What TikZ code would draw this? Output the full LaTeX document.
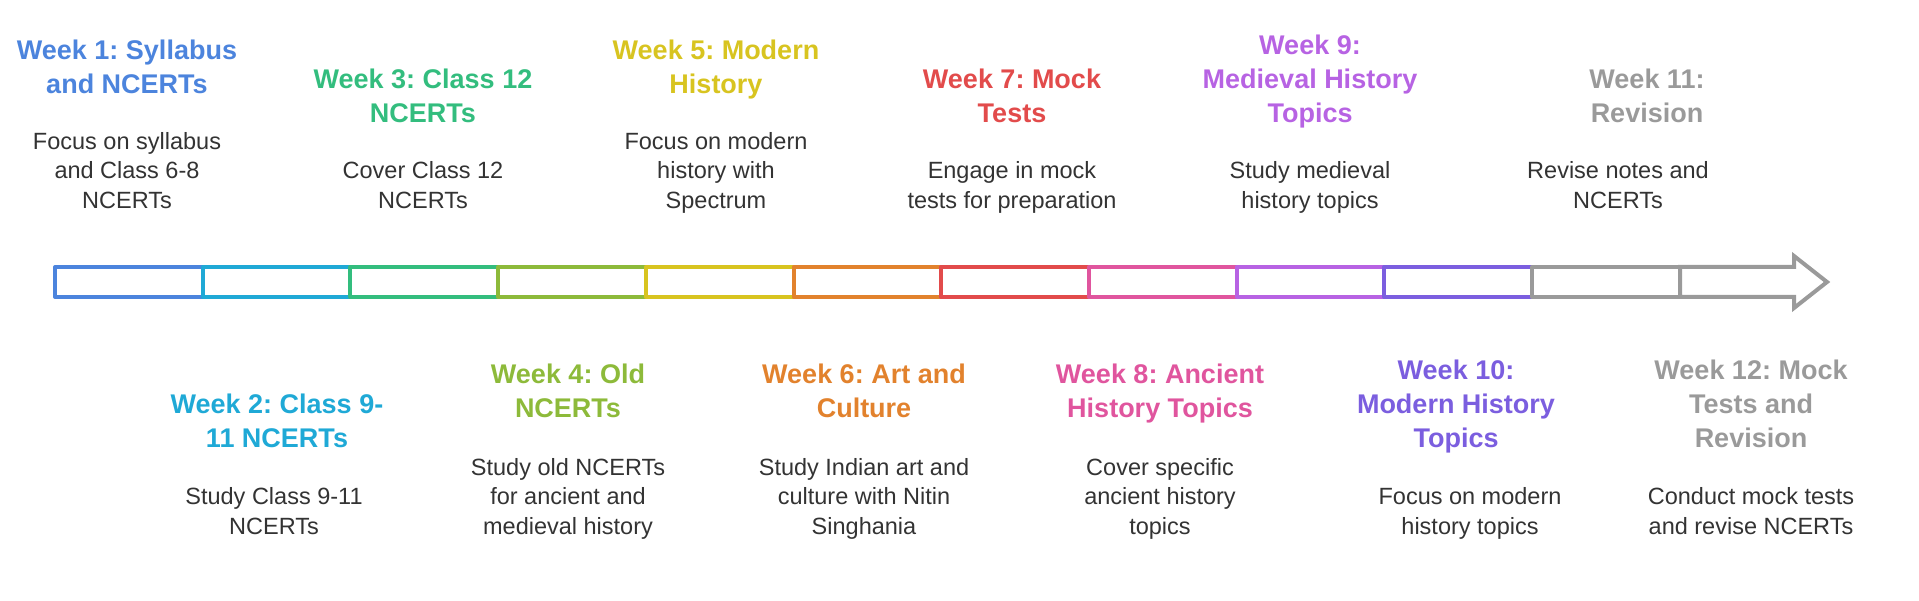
\documentclass[tikz,border=0pt]{standalone}
\usepackage{fontspec}
\setmainfont{Liberation Sans}
\frenchspacing
\usetikzlibrary{positioning}
\definecolor{c1}{HTML}{4C84DD}
\definecolor{c2}{HTML}{1FA9D6}
\definecolor{c3}{HTML}{33BD7E}
\definecolor{c4}{HTML}{8DBA3A}
\definecolor{c5}{HTML}{D8C420}
\definecolor{c6}{HTML}{E2822D}
\definecolor{c7}{HTML}{E24B4B}
\definecolor{c8}{HTML}{E0559E}
\definecolor{c9}{HTML}{B763E3}
\definecolor{c10}{HTML}{7B5EDF}
\definecolor{c11}{HTML}{9A9A9A}
\definecolor{bodytext}{HTML}{333333}
\tikzset{
  seg/.style={draw=#1, line width=4pt, line join=round, rectangle, inner sep=0pt, outer sep=0pt,
    minimum width=147.7pt, minimum height=30pt},
  bodytxt/.style={align=center, inner sep=0pt, text=bodytext, anchor=south,
    font=\fontsize{23.5pt}{29.5pt}\selectfont\frenchspacing},
  ttl/.style={align=center, inner sep=0pt, text=#1, anchor=south,
    font=\fontsize{27pt}{34pt}\selectfont\bfseries\frenchspacing},
}
\begin{document}
\begin{tikzpicture}[x=1pt,y=-1pt]
\useasboundingbox (0,0) rectangle (1919,601);
% timeline segments
\node[seg=c1]  (s1)  at (128.85,282) {};
\node[seg=c2]  (s2)  at (276.55,282) {};
\node[seg=c3]  (s3)  at (424.25,282) {};
\node[seg=c4]  (s4)  at (571.95,282) {};
\node[seg=c5]  (s5)  at (719.65,282) {};
\node[seg=c6]  (s6)  at (867.35,282) {};
\node[seg=c7]  (s7)  at (1015.05,282) {};
\node[seg=c8]  (s8)  at (1162.75,282) {};
\node[seg=c9]  (s9)  at (1310.45,282) {};
\node[seg=c10] (s10) at (1458.15,282) {};
\node[seg=c11] (s11) at (1605.85,282) {};
\draw[c11, line width=4pt, line join=miter]
  (1680,267) -- (1794,267) -- (1794,256) -- (1827,282) -- (1794,308) -- (1794,297) -- (1680,297) -- cycle;
\coordinate (s12) at (1751,282);

% top (odd weeks)
\node[bodytxt] (b1) at (127,217.3) {\strut Focus on syllabus\\and Class 6-8\\NCERTs\strut};
\node[ttl=c1] (t1) at ([yshift=24.85pt]b1.north) {\strut Week 1: Syllabus\\and NCERTs\strut};

\node[bodytxt] (b3) at (423,217.3) {\strut Cover Class 12\\NCERTs\strut};
\node[ttl=c3] (t3) at ([yshift=24.85pt]b3.north) {\strut Week 3: Class 12\\NCERTs\strut};

\node[bodytxt] (b5) at (716,217.3) {\strut Focus on modern\\history with\\Spectrum\strut};
\node[ttl=c5] (t5) at ([yshift=24.85pt]b5.north) {\strut Week 5: Modern\\History\strut};

\node[bodytxt] (b7) at (1012,217.3) {\strut Engage in mock\\tests for preparation\strut};
\node[ttl=c7] (t7) at ([yshift=24.85pt]b7.north) {\strut Week 7: Mock\\Tests\strut};

\node[bodytxt] (b9) at (1310,217.3) {\strut Study medieval\\history topics\strut};
\node[ttl=c9] (t9) at ([yshift=24.85pt]b9.north) {\strut Week 9:\\Medieval History\\Topics\strut};

\node[bodytxt] (b11) at (1618,217.3) {\strut Revise notes and\\NCERTs\strut};
\node[ttl=c11] (t11) at ([xshift=29pt,yshift=24.85pt]b11.north) {\strut Week 11:\\Revision\strut};

% bottom (even weeks)
\node[bodytxt] (b2) at (274,543.3) {\strut Study Class 9-11\\NCERTs\strut};
\node[ttl=c2] (t2) at ([xshift=3pt,yshift=26.35pt]b2.north) {\strut Week 2: Class 9-\\11 NCERTs\strut};

\node[bodytxt] (b4) at (568,543.3) {\strut Study old NCERTs\\for ancient and\\medieval history\strut};
\node[ttl=c4] (t4) at ([yshift=26.35pt]b4.north) {\strut Week 4: Old\\NCERTs\strut};

\node[bodytxt] (b6) at (864,543.3) {\strut Study Indian art and\\culture with Nitin\\Singhania\strut};
\node[ttl=c6] (t6) at ([yshift=26.35pt]b6.north) {\strut Week 6: Art and\\Culture\strut};

\node[bodytxt] (b8) at (1160,543.3) {\strut Cover specific\\ancient history\\topics\strut};
\node[ttl=c8] (t8) at ([yshift=26.35pt]b8.north) {\strut Week 8: Ancient\\History Topics\strut};

\node[bodytxt] (b10) at (1470,543.3) {\strut Focus on modern\\history topics\strut};
\node[ttl=c10] (t10) at ([xshift=-14pt,yshift=26.35pt]b10.north) {\strut Week 10:\\Modern History\\Topics\strut};

\node[bodytxt] (b12) at (1751,543.3) {\strut Conduct mock tests\\and revise NCERTs\strut};
\node[ttl=c11] (t12) at ([yshift=26.35pt]b12.north) {\strut Week 12: Mock\\Tests and\\Revision\strut};
\end{tikzpicture}
\end{document}
